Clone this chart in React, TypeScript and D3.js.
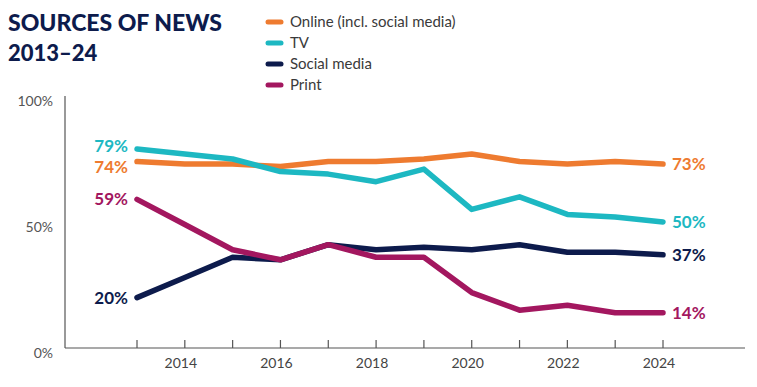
import * as d3 from 'd3';
import { useEffect, useRef } from 'react';

const years = [2013, 2014, 2015, 2016, 2017, 2018, 2019, 2020, 2021, 2022, 2023, 2024];
const online = [74, 73, 73, 72, 74, 74, 75, 77, 74, 73, 74, 73];
const tv = [79, 77, 75, 70, 69, 66, 71, 55, 60, 53, 52, 50];
const social = [20, 28, 36, 35, 41, 39, 40, 39, 41, 38, 38, 37];
const print = [59, 49, 39, 35, 41, 36, 36, 22, 15, 17, 14, 14];
const seriesNames = ['Online (incl. social media)', 'TV', 'Social media', 'Print'];
const seriesColors = ['#EE7B30', '#1DB8C2', '#0D1B4C', '#A3175F'];
const xTickYears = [2014, 2016, 2018, 2020, 2022, 2024];
const yTicks = [0, 50, 100];

const W = 757;
const H = 387;

export default function App() {
  const ref = useRef<SVGSVGElement | null>(null);

  useEffect(() => {
    const svg = d3.select(ref.current);
    svg.selectAll('*').remove();
    const font = 'Lato, "Noto Sans", sans-serif';

    const x = d3.scaleLinear().domain([2013, 2024]).range([137, 663]);
    const y = d3.scaleLinear().domain([0, 100]).range([348, 96]);

    // title
    svg.append('text').attr('x', 8).attr('y', 31).attr('font-family', font).attr('font-weight', 900)
      .attr('font-size', 23).attr('fill', '#0D1B4C').text('SOURCES OF NEWS');
    svg.append('text').attr('x', 8).attr('y', 61).attr('font-family', font).attr('font-weight', 900)
      .attr('font-size', 22).attr('fill', '#0D1B4C').text('2013–24');

    // legend
    const leg = svg.append('g').attr('font-family', font).attr('font-size', 15).attr('fill', '#3a3a3a');
    seriesNames.forEach((n, i) => {
      const cy = 22 + i * 21;
      leg.append('line').attr('x1', 268).attr('x2', 281).attr('y1', cy).attr('y2', cy)
        .attr('stroke', seriesColors[i]).attr('stroke-width', 5).attr('stroke-linecap', 'round');
      leg.append('text').attr('x', 290).attr('y', cy + 5).text(n);
    });

    // axes
    svg.append('line').attr('x1', 65).attr('x2', 65).attr('y1', 96).attr('y2', 348)
      .attr('stroke', '#555').attr('stroke-width', 1.2);
    svg.append('line').attr('x1', 65).attr('x2', 745).attr('y1', 348).attr('y2', 348)
      .attr('stroke', '#555').attr('stroke-width', 1.2);
    svg.append('g').selectAll('line').data(years).join('line')
      .attr('x1', (d) => x(d)).attr('x2', (d) => x(d)).attr('y1', 340).attr('y2', 348)
      .attr('stroke', '#555').attr('stroke-width', 1.2);
    svg.append('g').attr('font-family', font).attr('font-size', 14).attr('fill', '#444')
      .attr('text-anchor', 'middle').selectAll('text').data(xTickYears).join('text')
      .attr('x', (d) => x(d) - 4).attr('y', 368).text((d) => d);
    svg.append('g').attr('font-family', font).attr('font-size', 14).attr('fill', '#555')
      .attr('text-anchor', 'end').selectAll('text').data(yTicks).join('text')
      .attr('x', 53).attr('y', (d) => y(d) + 10).text((d) => `${d}%`);

    // lines
    const data = [online, tv, social, print];
    const line = d3.line<number>().x((_, i) => x(years[i])).y((d) => y(d));
    const order = [2, 0, 1, 3];
    order.forEach((s) => {
      svg.append('path').attr('d', line(data[s])).attr('fill', 'none')
        .attr('stroke', seriesColors[s]).attr('stroke-width', 5.5)
        .attr('stroke-linejoin', 'round').attr('stroke-linecap', 'round');
    });

    // end labels
    const lab = svg.append('g').attr('font-family', font).attr('font-weight', 700).attr('font-size', 17);
    const leftOffsets = [5, -3, 0, 0];
    data.forEach((vals, s) => {
      lab.append('text').attr('x', 128).attr('y', y(vals[0]) + 6 + leftOffsets[s])
        .attr('text-anchor', 'end').attr('fill', seriesColors[s]).text(`${vals[0]}%`);
      lab.append('text').attr('x', 672).attr('y', y(vals[vals.length - 1]) + 6)
        .attr('fill', seriesColors[s]).text(`${vals[vals.length - 1]}%`);
    });
  }, []);

  return (
    <svg ref={ref} width={W} height={H} style={{ position: 'absolute', left: 0, top: 0, background: '#fff' }} />
  );
}
